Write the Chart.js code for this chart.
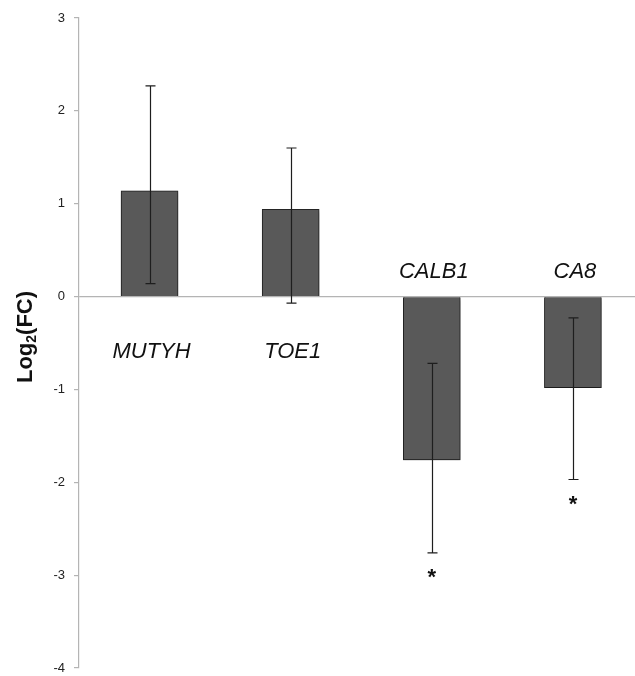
<!DOCTYPE html>
<html>
<head>
<meta charset="utf-8">
<script src="https://cdn.jsdelivr.net/npm/chart.js@4/dist/chart.umd.min.js"></script>
<style>
  html, body { margin: 0; padding: 0; background: #fff; overflow: hidden; }
  canvas { display: block; }
</style>
</head>
<body>
<canvas id="chart" width="635" height="676"></canvas>
<script>
// values
const genes = ['MUTYH', 'TOE1', 'CALB1', 'CA8'];
const log2fc = [1.14, 0.94, -1.76, -0.98];
const errLow = [0.14, -0.07, -2.76, -1.97];
const errHigh = [2.27, 1.60, -0.72, -0.23];
const significant = [false, false, true, true];
const yMin = -4;
const yMax = 3;

const axisGray = '#b4b4b4';

// error bars, gene names and asterisks
const annotations = {
    id: 'annotations',
    beforeDatasetsDraw(chart) {
        const ctx = chart.ctx;
        ctx.save();
        ctx.shadowColor = 'rgba(0,0,0,0.35)';
        ctx.shadowBlur = 4;
        ctx.shadowOffsetY = 2;
    },
    afterDatasetsDraw(chart) {
        const ctx = chart.ctx;
        ctx.restore();
        const y = chart.scales.y;
        const zero = y.getPixelForValue(0);
        const meta = chart.getDatasetMeta(0);

        ctx.save();
        ctx.strokeStyle = '#1e1e1e';
        ctx.lineWidth = 1.2;
        meta.data.forEach((bar, i) => {
            const x = Math.round(bar.x) + 0.5;
            const top = y.getPixelForValue(errHigh[i]);
            const bot = y.getPixelForValue(errLow[i]);
            ctx.beginPath();
            ctx.moveTo(x, top); ctx.lineTo(x, bot);
            ctx.moveTo(x - 5, top); ctx.lineTo(x + 5, top);
            ctx.moveTo(x - 5, bot); ctx.lineTo(x + 5, bot);
            ctx.stroke();
        });

        ctx.fillStyle = '#111';
        ctx.textAlign = 'center';
        ctx.textBaseline = 'alphabetic';
        ctx.font = 'italic 22px "Liberation Sans", Arial, sans-serif';
        meta.data.forEach((bar, i) => {
            const ly = log2fc[i] >= 0 ? zero + 61 : zero - 19;
            ctx.fillText(genes[i], bar.x + 2, ly);
        });

        ctx.font = 'bold 22px "Liberation Sans", Arial, sans-serif';
        meta.data.forEach((bar, i) => {
            if (!significant[i]) return;
            const bot = y.getPixelForValue(errLow[i]);
            ctx.fillText('*', bar.x, bot + 31);
        });

        // y axis title: Log2(FC) with subscript
        const cx = 26, cy = 337;
        ctx.translate(cx, cy);
        ctx.rotate(-Math.PI / 2);
        const big = 'bold 22px "Liberation Sans", Arial, sans-serif';
        const small = 'bold 14px "Liberation Sans", Arial, sans-serif';
        ctx.font = big;
        const w1 = ctx.measureText('Log').width;
        const w3 = ctx.measureText('(FC)').width;
        ctx.font = small;
        const w2 = ctx.measureText('2').width;
        let sx = -(w1 + w2 + w3) / 2;
        ctx.textAlign = 'left';
        ctx.textBaseline = 'middle';
        ctx.font = big;
        ctx.fillText('Log', sx, 0);
        sx += w1;
        ctx.font = small;
        ctx.fillText('2', sx, 6);
        sx += w2;
        ctx.font = big;
        ctx.fillText('(FC)', sx, 0);
        ctx.restore();
    }
};

new Chart(document.getElementById('chart'), {
    type: 'bar',
    data: {
        datasets: [{
            data: genes.map((g, i) => ({ x: i, y: log2fc[i] })),
            backgroundColor: '#595959',
            borderColor: '#262626',
            borderWidth: 1,
            barThickness: 57
        }]
    },
    options: {
        responsive: false,
        animation: false,
        layout: { padding: { top: 18, bottom: 8, left: 0, right: 0 } },
        plugins: { legend: { display: false }, tooltip: { enabled: false } },
        scales: {
            x: { type: 'linear', min: -0.5, max: 3.44, offset: false, display: false },
            y: {
                min: yMin,
                max: yMax,
                afterFit: (s) => {
                    s.width = 79;
                    s.paddingTop = 0;
                    s.paddingBottom = 0;
                },
                ticks: {
                    stepSize: 1,
                    padding: 9,
                    color: '#222',
                    font: { family: '"Liberation Sans", Arial, sans-serif', size: 13 }
                },
                grid: {
                    color: (c) => (c.tick && c.tick.value === 0 ? axisGray : 'transparent'),
                    tickColor: axisGray,
                    tickLength: 5,
                    lineWidth: 1.2
                },
                border: { display: true, color: axisGray, width: 1.2 }
            }
        }
    },
    plugins: [annotations]
});
</script>
</body>
</html>
